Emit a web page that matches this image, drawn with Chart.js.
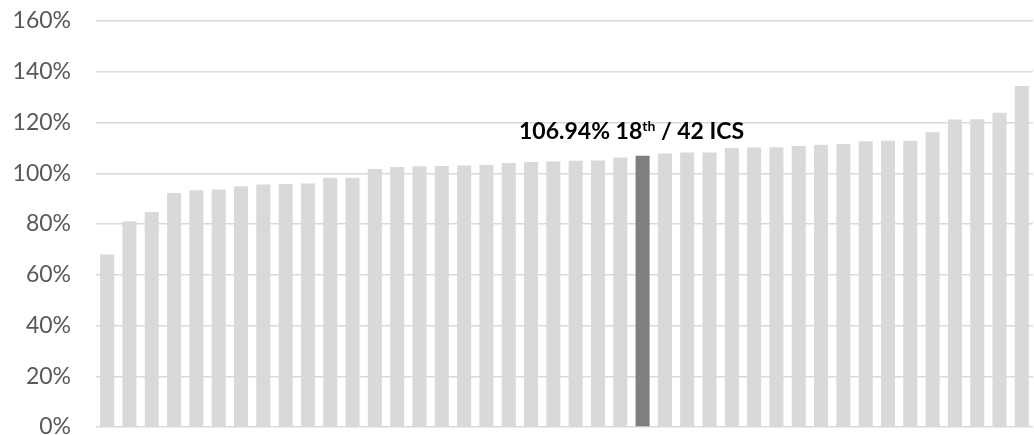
<!DOCTYPE html>
<html>
<head>
<meta charset="utf-8">
<script src="https://cdn.jsdelivr.net/npm/chart.js@4"></script>
<style>
  html, body { margin: 0; padding: 0; background: #ffffff; }
  #wrap { width: 1034px; height: 435px; position: relative; }
</style>
</head>
<body>
<div id="wrap"><canvas id="c"></canvas></div>
<script>
// Ratio per institution, sorted ascending (percent)
const categories = Array.from({ length: 42 }, (_, i) => 'ICS ' + (i + 1));
const values = [
  68.0, 81.1, 84.7, 92.2, 93.3, 93.6, 94.9, 95.6, 95.8, 96.0,
  98.2, 98.2, 101.7, 102.5, 102.8, 102.9, 103.1, 103.3, 104.0, 104.4,
  104.6, 104.9, 105.0, 106.2, 106.94, 107.8, 108.2, 108.2, 110.0, 110.1,
  110.2, 110.7, 111.2, 111.5, 112.6, 112.8, 112.8, 116.2, 121.2, 121.3,
  123.8, 134.4
];
const yTicks = [0, 20, 40, 60, 80, 100, 120, 140, 160];
const highlightIndex = 24;
const highlightValue = values[highlightIndex];
const rankText = '18';
const rankSuffix = 'th';
const totalText = ' / 42 ICS';

const barColors = values.map((_, i) => i === highlightIndex ? '#7f7f7f' : '#d9d9d9');

const fontFamily = 'Lato, "Open Sans", sans-serif';

// Callout over the highlighted bar: value, rank with superscript, total
const calloutPlugin = {
  id: 'callout',
  afterDatasetsDraw(chart) {
    const { ctx, scales } = chart;
    const cx = scales.x.getPixelForValue(highlightIndex);
    const top = scales.y.getPixelForValue(highlightValue);
    const baseline = top - 17;
    const mainFont = 'bold 23px ' + fontFamily;
    const supFont = 'bold 14px ' + fontFamily;
    const partA = highlightValue.toFixed(2) + '% ' + rankText;
    ctx.save();
    ctx.fillStyle = '#000000';
    ctx.textBaseline = 'alphabetic';
    ctx.textAlign = 'left';
    ctx.font = mainFont;
    const wA = ctx.measureText(partA).width;
    const wC = ctx.measureText(totalText).width;
    ctx.font = supFont;
    const wB = ctx.measureText(rankSuffix).width;
    const total = wA + wB + wC;
    let x = cx - 11 - total / 2;
    ctx.font = mainFont;
    ctx.fillText(partA, x, baseline);
    x += wA;
    ctx.font = supFont;
    ctx.fillText(rankSuffix, x, baseline - 8);
    x += wB;
    ctx.font = mainFont;
    ctx.fillText(totalText, x, baseline);
    ctx.restore();
  }
};

new Chart(document.getElementById('c'), {
  type: 'bar',
  data: {
    labels: categories,
    datasets: [{
      data: values,
      backgroundColor: barColors,
      borderWidth: 0,
      barPercentage: 1.0,
      categoryPercentage: 0.63
    }]
  },
  options: {
    responsive: true,
    maintainAspectRatio: false,
    animation: false,
    devicePixelRatio: 1,
    layout: { padding: { top: 21, bottom: 8, left: 0, right: 1 } },
    plugins: {
      legend: { display: false },
      tooltip: { enabled: false }
    },
    scales: {
      x: {
        display: false
      },
      y: {
        min: 0,
        max: 160,
        afterFit(scale) {
          scale.width = 96;
          scale.paddingTop = 0;
          scale.paddingBottom = 0;
        },
        afterBuildTicks(scale) { scale.ticks = yTicks.map(v => ({ value: v })); },
        grid: { color: '#d9d9d9', lineWidth: 1.5, drawTicks: false },
        border: { display: false },
        ticks: {
          padding: 25,
          color: '#595959',
          font: { family: fontFamily, size: 23, lineHeight: 1 },
          callback: v => v + '%'
        }
      }
    }
  },
  plugins: [calloutPlugin]
});
</script>
</body>
</html>
